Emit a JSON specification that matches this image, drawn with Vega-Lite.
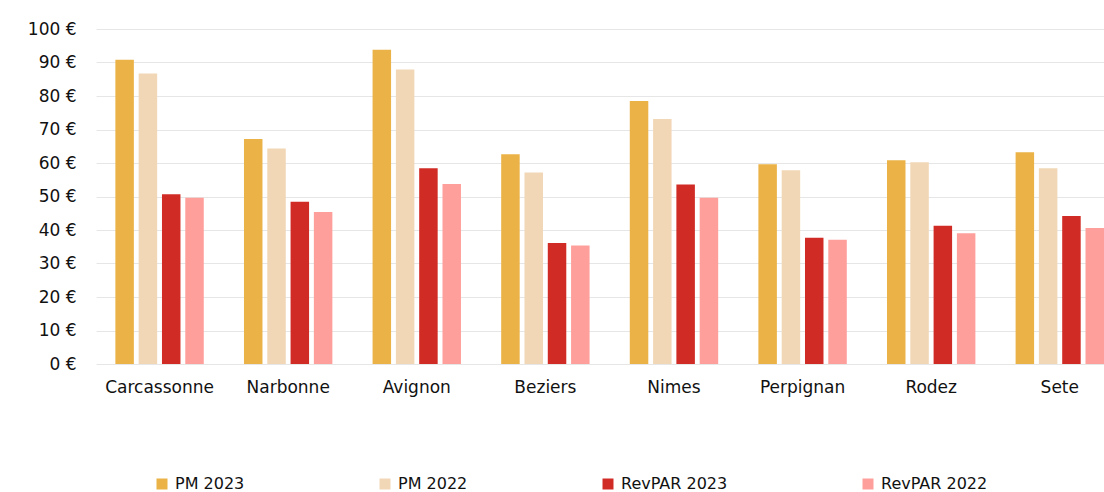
{
  "$schema": "https://vega.github.io/schema/vega-lite/v6.json",
  "width": 1008,
  "height": 335,
  "autosize": {"type": "none"},
  "padding": {"left": 96, "top": 29, "right": 0, "bottom": 128},
  "config": {"view": {"stroke": null}, "font": "DejaVu Sans"},
  "data": {
    "values": [
      {"city": "Carcassonne", "series": "PM 2023", "value": 90.8},
      {"city": "Carcassonne", "series": "PM 2022", "value": 86.7},
      {"city": "Carcassonne", "series": "RevPAR 2023", "value": 50.7},
      {"city": "Carcassonne", "series": "RevPAR 2022", "value": 49.6},
      {"city": "Narbonne", "series": "PM 2023", "value": 67.2},
      {"city": "Narbonne", "series": "PM 2022", "value": 64.3},
      {"city": "Narbonne", "series": "RevPAR 2023", "value": 48.4},
      {"city": "Narbonne", "series": "RevPAR 2022", "value": 45.4},
      {"city": "Avignon", "series": "PM 2023", "value": 93.8},
      {"city": "Avignon", "series": "PM 2022", "value": 87.9},
      {"city": "Avignon", "series": "RevPAR 2023", "value": 58.4},
      {"city": "Avignon", "series": "RevPAR 2022", "value": 53.7},
      {"city": "Beziers", "series": "PM 2023", "value": 62.6},
      {"city": "Beziers", "series": "PM 2022", "value": 57.2},
      {"city": "Beziers", "series": "RevPAR 2023", "value": 36.1},
      {"city": "Beziers", "series": "RevPAR 2022", "value": 35.4},
      {"city": "Nimes", "series": "PM 2023", "value": 78.5},
      {"city": "Nimes", "series": "PM 2022", "value": 73.1},
      {"city": "Nimes", "series": "RevPAR 2023", "value": 53.6},
      {"city": "Nimes", "series": "RevPAR 2022", "value": 49.6},
      {"city": "Perpignan", "series": "PM 2023", "value": 59.6},
      {"city": "Perpignan", "series": "PM 2022", "value": 57.8},
      {"city": "Perpignan", "series": "RevPAR 2023", "value": 37.7},
      {"city": "Perpignan", "series": "RevPAR 2022", "value": 37.1},
      {"city": "Rodez", "series": "PM 2023", "value": 60.8},
      {"city": "Rodez", "series": "PM 2022", "value": 60.2},
      {"city": "Rodez", "series": "RevPAR 2023", "value": 41.3},
      {"city": "Rodez", "series": "RevPAR 2022", "value": 39.0},
      {"city": "Sete", "series": "PM 2023", "value": 63.2},
      {"city": "Sete", "series": "PM 2022", "value": 58.4},
      {"city": "Sete", "series": "RevPAR 2023", "value": 44.2},
      {"city": "Sete", "series": "RevPAR 2022", "value": 40.6}
    ]
  },
  "mark": {"type": "bar"},
  "encoding": {
    "x": {
      "field": "city",
      "type": "nominal",
      "sort": ["Carcassonne", "Narbonne", "Avignon", "Beziers", "Nimes", "Perpignan", "Rodez", "Sete"],
      "scale": {"paddingInner": 0.3126, "paddingOuter": 0.0753, "align": 1},
      "axis": {"title": null, "labelAngle": 0, "domain": false, "ticks": false, "labelPadding": 15, "labelFontSize": 17, "labelColor": "#111111"}
    },
    "xOffset": {
      "field": "series",
      "type": "nominal",
      "sort": ["PM 2023", "PM 2022", "RevPAR 2023", "RevPAR 2022"],
      "scale": {"paddingInner": 0.206, "paddingOuter": 0}
    },
    "y": {
      "field": "value",
      "type": "quantitative",
      "scale": {"domain": [0, 100]},
      "axis": {
        "title": null,
        "values": [0, 10, 20, 30, 40, 50, 60, 70, 80, 90, 100],
        "labelExpr": "datum.value + ' €'",
        "domain": false,
        "ticks": false,
        "gridColor": "#E6E6E6",
        "gridWidth": 1,
        "labelPadding": 20,
        "labelFontSize": 17,
        "labelColor": "#111111"
      }
    },
    "color": {
      "field": "series",
      "type": "nominal",
      "sort": ["PM 2023", "PM 2022", "RevPAR 2023", "RevPAR 2022"],
      "scale": {
        "domain": ["PM 2023", "PM 2022", "RevPAR 2023", "RevPAR 2022"],
        "range": ["#EBB347", "#F1D7B6", "#D12B26", "#FF9F9B"]
      },
      "legend": {
        "title": null,
        "orient": "none",
        "legendX": 58,
        "legendY": 447,
        "direction": "horizontal",
        "gridAlign": "none",
        "columnPadding": 132,
        "symbolType": "square",
        "symbolSize": 121,
        "symbolStrokeWidth": 0,
        "labelFontSize": 16,
        "labelOffset": 5,
        "labelColor": "#111111"
      }
    }
  }
}
